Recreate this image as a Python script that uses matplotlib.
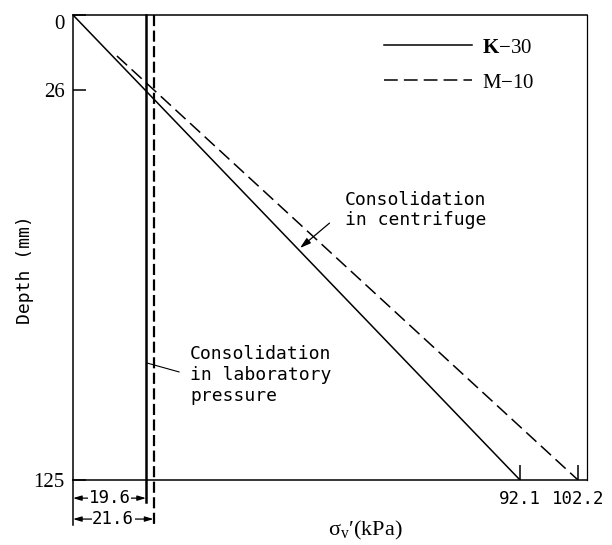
import matplotlib.pyplot as plt
import numpy as np

plt.rcParams['mathtext.fontset'] = 'custom'
plt.rcParams['mathtext.rm'] = 'Liberation Serif'
plt.rcParams['mathtext.it'] = 'Liberation Serif:italic'
plt.rcParams['mathtext.bf'] = 'Liberation Serif:bold'

# values
depth_ticks = [0, 26, 125]          # mm
stress_ticks = [92.1, 102.2]        # kPa at the base
lab_k30 = 19.6                      # consolidation in laboratory pressure
lab_m10 = 21.6
cen_k30_stress = [0, 92.1]          # consolidation in centrifuge
cen_k30_depth = [0, 125]
cen_m10_stress = [11.8, 102.2]
cen_m10_depth = [14.2, 125]

# the original sketch is not to scale -> piecewise axis scales
x_kpa = [0, 19.6, 21.6, 92.1, 102.2, 103.8]
x_pos = [0, 73, 80.5, 447, 505, 514]
y_mm = [0, 26, 125]
y_pos = [0, 75, 465]

MONO = 'DejaVu Sans Mono'
SERIF = ['Liberation Serif', 'DejaVu Serif']

fig = plt.figure(figsize=(6.12, 5.45), dpi=100)
ax = fig.add_axes([73 / 612, 65 / 545, 514 / 612, 465 / 545])

ax.set_xscale('function', functions=(lambda v: np.interp(v, x_kpa, x_pos),
                                     lambda v: np.interp(v, x_pos, x_kpa)))
ax.set_yscale('function', functions=(lambda v: np.interp(v, y_mm, y_pos),
                                     lambda v: np.interp(v, y_pos, y_mm)))
ax.set_xlim(x_kpa[0], x_kpa[-1])
ax.set_ylim(y_mm[-1], y_mm[0])


def px(x, y):
    # pixel of the 612x545 picture -> axes fraction
    return ((x - 73) / 514, (480 - y) / 465)


# centrifuge lines
ax.plot(cen_k30_stress, cen_k30_depth, color='black', lw=1.1, label=r'$\mathbf{K}$$-$30')
ax.plot(cen_m10_stress, cen_m10_depth, color='black', lw=1.1,
        linestyle=(0, (9, 4)), label=r'M$-$10')

# laboratory lines (run past the base as dimension lines)
xt = ax.get_xaxis_transform()
ax.plot([lab_k30, lab_k30], [1, -0.047], transform=xt, color='black', lw=1.8, clip_on=False)
ax.plot([lab_m10, lab_m10], [1, -0.097], transform=xt, color='black', lw=1.6,
        linestyle=(0, (5, 2)), clip_on=False)
ax.plot([0, 0], [0, -0.097], transform=xt, color='black', lw=1.1, clip_on=False)

# dimensions below the base
for val, yfr in [(lab_k30, -0.039), (lab_m10, -0.084)]:
    ax.annotate('', xy=(0, yfr), xytext=(val, yfr), xycoords=xt, textcoords=xt,
                arrowprops=dict(arrowstyle='<|-|>,head_length=0.5,head_width=0.15',
                                color='black', lw=0.9, shrinkA=0, shrinkB=0),
                annotation_clip=False)
    ax.text(val / 2, yfr, f'{val:.1f}', transform=xt, ha='center', va='center',
            family=MONO, fontsize=12.5,
            bbox=dict(facecolor='white', edgecolor='none', pad=0.5))

# axes frame and ticks
for s in ax.spines.values():
    s.set_linewidth(1.1)
ax.spines['right'].set_linewidth(0.9)
ax.set_yticks(depth_ticks, labels=[str(d) for d in depth_ticks], family=SERIF, fontsize=15)
ax.set_xticks(stress_ticks, labels=[f'{s:.1f}' for s in stress_ticks], family=MONO, fontsize=12.5)
ax.get_yticklabels()[0].set_va('top')
ax.minorticks_off()
ax.tick_params(axis='y', direction='in', length=9, width=1.1, pad=6)
ax.tick_params(axis='x', direction='in', length=11, width=1.1, pad=7)

# annotations
ax.annotate('Consolidation\nin centrifuge', xy=px(300, 248), xytext=px(345, 210),
            xycoords='axes fraction', textcoords='axes fraction',
            ha='left', va='center', family=MONO, fontsize=13,
            arrowprops=dict(arrowstyle='-|>,head_length=0.5,head_width=0.15',
                            color='black', lw=0.9, shrinkA=12, shrinkB=0,
                            relpos=(0, 0.5)))
ax.annotate('Consolidation\nin laboratory\npressure', xy=px(147, 363), xytext=px(190, 375),
            xycoords='axes fraction', textcoords='axes fraction',
            ha='left', va='center', family=MONO, fontsize=13,
            arrowprops=dict(arrowstyle='-', color='black', lw=0.8,
                            shrinkA=6, shrinkB=0, relpos=(0, 0.5)))

# axis labels
ax.text(*px(25, 270), 'Depth (mm)', transform=ax.transAxes, rotation=90,
        ha='center', va='center', family=MONO, fontsize=13)
ax.text(*px(365, 530), 'σ$_{\\mathrm{v}}$′(kPa)', transform=ax.transAxes,
        ha='center', va='center', family=SERIF, fontsize=16)

ax.legend(loc='upper left', bbox_to_anchor=px(384, 38), frameon=False,
          prop={'family': SERIF, 'size': 15}, handlelength=4.2, handletextpad=0.5,
          labelspacing=0.75, borderpad=0, borderaxespad=0)

fig.savefig('out.png', dpi=100)
